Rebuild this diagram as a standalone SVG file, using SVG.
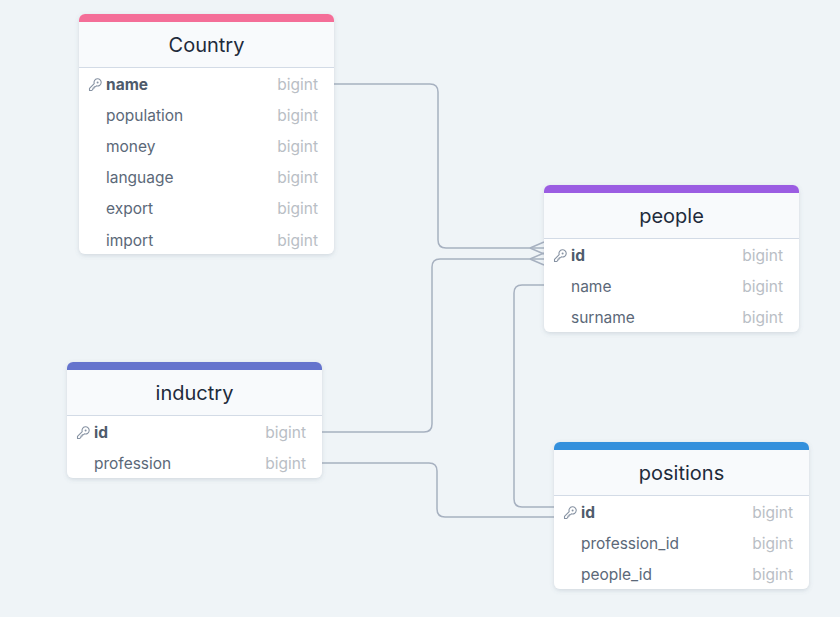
<svg xmlns="http://www.w3.org/2000/svg" width="840" height="617" viewBox="0 0 840 617">
<defs>
<filter id="sh" x="-10%" y="-10%" width="120%" height="130%">
<feDropShadow dx="0" dy="1.5" stdDeviation="2" flood-color="#64748b" flood-opacity="0.22"/>
</filter>
<symbol id="key" viewBox="0 0 14 14" overflow="visible">
<path d="M1.5,12.5 L1.5,10.3 L6.2,5.6 A3.6,3.6 0 1 1 8.4,7.8 L7.4,8.8 L6.2,8.8 L6.2,10 L5,10 L5,11.2 L3.8,12.5 Z" fill="none" stroke="#8793a3" stroke-width="1.1" stroke-linejoin="round"/>
<circle cx="9.6" cy="4.4" r="1" fill="#8793a3"/>
</symbol>
</defs>
<style>
.card{fill:#ffffff;}
.head{fill:#f8fafc;}
.sep{stroke:#d3dbe6;stroke-width:1;}
.title{font-family:Inter,"Noto Sans","Liberation Sans",sans-serif;font-size:20px;fill:#1e2b3b;text-anchor:middle;}
.f{font-family:Inter,"Noto Sans","Liberation Sans",sans-serif;font-size:15.5px;fill:#5b6878;}
.fk{font-weight:700;fill:#4e5b6b;}
.t{font-family:Inter,"Noto Sans","Liberation Sans",sans-serif;font-size:15.5px;fill:#b9bec5;text-anchor:end;}
.c{fill:none;stroke:#a7b1c0;stroke-width:1.5;}
</style>
<rect width="840" height="617" fill="#eff4f7"/>

<g id="connectors">
<path class="c" d="M334,84 H430 Q438,84 438,92 V240 Q438,248 446,248 H544"/>
<path class="c" d="M530,248 L544,242 M530,248 L544,254"/>
<path class="c" d="M322,432 H424 Q432,432 432,424 V267 Q432,259 440,259 H544"/>
<path class="c" d="M530,259 L544,253 M530,259 L544,265"/>
<path class="c" d="M544,285 H522 Q514,285 514,293 V499 Q514,507 522,507 H554"/>
<path class="c" d="M322,463 H429 Q437,463 437,471 V509 Q437,517 445,517 H554"/>
</g>

<g id="country">
<g filter="url(#sh)">
<rect class="card" x="79" y="14" width="255" height="240" rx="6"/>
</g>
<path d="M79,68 V22 H334 V68 Z" class="head"/>
<path d="M85,14 H328 A6,6 0 0 1 334,20 V22 H79 V20 A6,6 0 0 1 85,14 Z" fill="#f46e98"/>
<line class="sep" x1="79" y1="67.5" x2="334" y2="67.5"/>
<text class="title" x="206.5" y="52">Country</text>
<use href="#key" x="88" y="78" width="14" height="14"/>
<text class="f fk" x="106" y="90">name</text><text class="t" x="318" y="90">bigint</text>
<text class="f" x="106" y="121">population</text><text class="t" x="318" y="121">bigint</text>
<text class="f" x="106" y="152">money</text><text class="t" x="318" y="152">bigint</text>
<text class="f" x="106" y="183">language</text><text class="t" x="318" y="183">bigint</text>
<text class="f" x="106" y="214">export</text><text class="t" x="318" y="214">bigint</text>
<text class="f" x="106" y="246">import</text><text class="t" x="318" y="246">bigint</text>
</g>

<g id="people">
<g filter="url(#sh)">
<rect class="card" x="544" y="185" width="255" height="147" rx="6"/>
</g>
<path d="M544,239 V193 H799 V239 Z" class="head"/>
<path d="M550,185 H793 A6,6 0 0 1 799,191 V193 H544 V191 A6,6 0 0 1 550,185 Z" fill="#9b5de2"/>
<line class="sep" x1="544" y1="238.5" x2="799" y2="238.5"/>
<text class="title" x="671.5" y="223">people</text>
<use href="#key" x="553" y="249" width="14" height="14"/>
<text class="f fk" x="571" y="261">id</text><text class="t" x="783" y="261">bigint</text>
<text class="f" x="571" y="292">name</text><text class="t" x="783" y="292">bigint</text>
<text class="f" x="571" y="323">surname</text><text class="t" x="783" y="323">bigint</text>
</g>

<g id="inductry">
<g filter="url(#sh)">
<rect class="card" x="67" y="362" width="255" height="116" rx="6"/>
</g>
<path d="M67,416 V370 H322 V416 Z" class="head"/>
<path d="M73,362 H316 A6,6 0 0 1 322,368 V370 H67 V368 A6,6 0 0 1 73,362 Z" fill="#6574cd"/>
<line class="sep" x1="67" y1="415.5" x2="322" y2="415.5"/>
<text class="title" x="194.5" y="400">inductry</text>
<use href="#key" x="76" y="426" width="14" height="14"/>
<text class="f fk" x="94" y="438">id</text><text class="t" x="306" y="438">bigint</text>
<text class="f" x="94" y="469">profession</text><text class="t" x="306" y="469">bigint</text>
</g>

<g id="positions">
<g filter="url(#sh)">
<rect class="card" x="554" y="442" width="255" height="147" rx="6"/>
</g>
<path d="M554,496 V450 H809 V496 Z" class="head"/>
<path d="M560,442 H803 A6,6 0 0 1 809,448 V450 H554 V448 A6,6 0 0 1 560,442 Z" fill="#3490dc"/>
<line class="sep" x1="554" y1="495.5" x2="809" y2="495.5"/>
<text class="title" x="681.5" y="480">positions</text>
<use href="#key" x="563" y="506" width="14" height="14"/>
<text class="f fk" x="581" y="518">id</text><text class="t" x="793" y="518">bigint</text>
<text class="f" x="581" y="549">profession_id</text><text class="t" x="793" y="549">bigint</text>
<text class="f" x="581" y="580">people_id</text><text class="t" x="793" y="580">bigint</text>
</g>
</svg>
